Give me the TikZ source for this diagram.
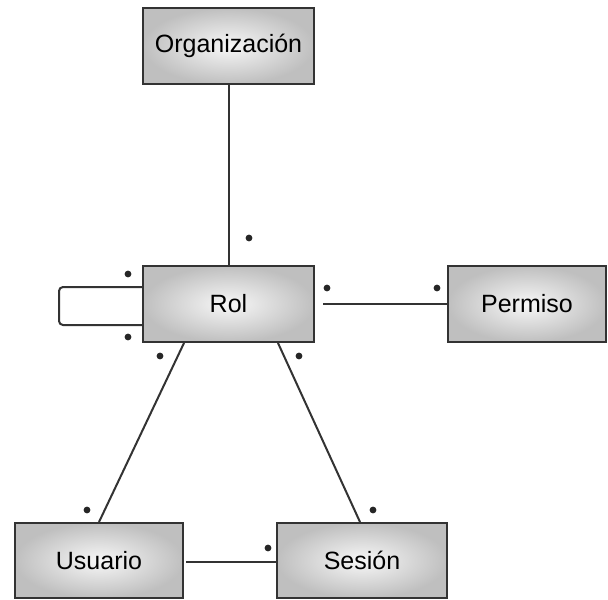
\documentclass[tikz,border=0pt]{standalone}
\usepackage{fontspec}
\setmainfont{Liberation Sans}
\begin{document}
\begin{tikzpicture}[x=0.5pt,y=-0.5pt,
  entity/.style={draw=black!80, line width=1pt, inner color=gray!6, outer color=gray!50,
    font=\fontsize{12.5}{15}\selectfont, minimum height=38pt, inner sep=0pt},
  assoc/.style={draw=black!80, line width=1pt},
  mult/.style={circle, fill=black!85, inner sep=0pt, minimum size=3.4pt}]
\useasboundingbox (0,0) rectangle (608,599);
\fill[white] (0,0) rectangle (608,599);

% classes
\node[entity, minimum width=85.5pt] (org) at (228.5,46) {Organización};
\node[entity, minimum width=85.5pt] (rol) at (228.5,304) {Rol};
\node[entity, minimum width=79pt] (perm) at (527,304) {Permiso};
\node[entity, minimum width=84pt, minimum height=37.5pt] (usr) at (99,560.5) {Usuario};
\node[entity, minimum width=85pt, minimum height=37.5pt] (ses) at (362,560.5) {Sesión};

% associations
\draw[assoc] (org.south) -- (rol.north);
\draw[assoc] ([xshift=4pt]rol.east) -- (perm.west);
\draw[assoc, rounded corners=2pt] ([yshift=8.5pt]rol.west) -- ++(-41.5pt,0) -- ++(0,-19pt) -- ([yshift=-10.5pt]rol.west);
\draw[assoc] ([xshift=21pt]rol.south west) -- ([xshift=42.5pt]usr.north west);
\draw[assoc] ([xshift=-18.5pt]rol.south east) -- ([xshift=42pt]ses.north west);
\draw[assoc] ([xshift=1pt,yshift=-0.75pt]usr.east) -- ([yshift=-0.75pt]ses.west);

% multiplicities
\node[mult] (m1) at (249,238) {};
\node[mult] (m2) at (128,274) {};
\node[mult] (m3) at (128,337) {};
\node[mult] (m4) at (160,356) {};
\node[mult] (m5) at (299,356) {};
\node[mult] (m6) at (327,288) {};
\node[mult] (m7) at (437,288) {};
\node[mult] (m8) at (87,510) {};
\node[mult] (m9) at (373,510) {};
\node[mult] (m10) at (268,548) {};
\end{tikzpicture}
\end{document}
